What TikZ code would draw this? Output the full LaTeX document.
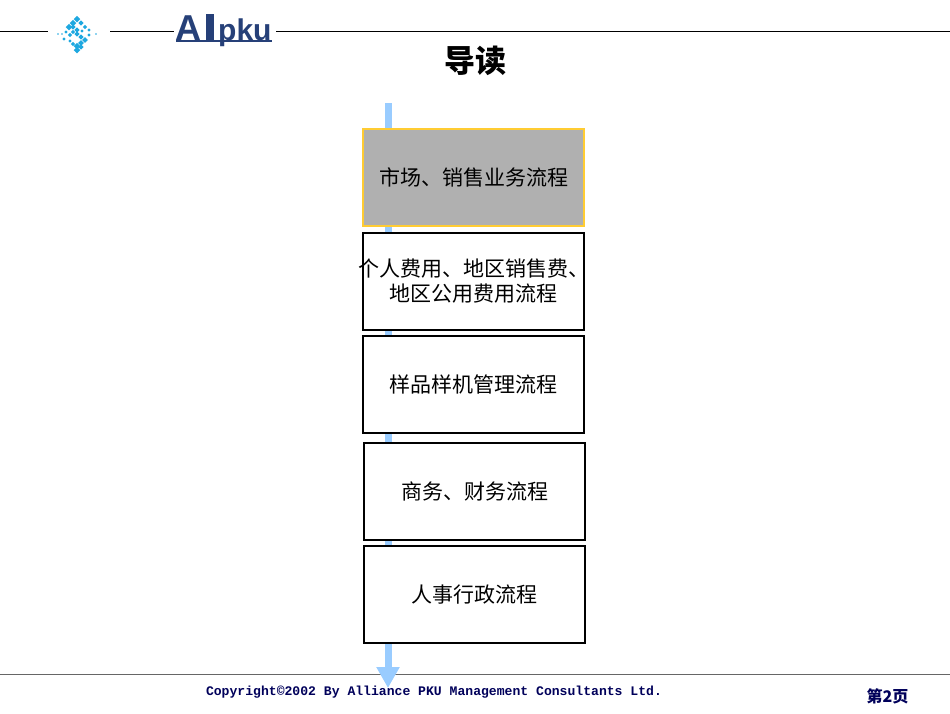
\documentclass[tikz,border=0pt]{standalone}
\usepackage{fontspec}
\setmainfont{Liberation Sans}
\setmonofont{Liberation Mono}
\newfontfamily\cjk{Noto Sans CJK SC}
\usetikzlibrary{arrows, arrows.meta}
\definecolor{flowblue}{RGB}{153,204,255}
\definecolor{flowgold}{RGB}{255,204,51}
\definecolor{flowgray}{RGB}{176,176,176}
\definecolor{logoblue}{RGB}{30,168,224}
\definecolor{logonavy}{RGB}{38,64,120}
\definecolor{footnavy}{RGB}{0,0,90}
\tikzset{
	flowbox/.style={draw=black, line width=2pt, fill=white, minimum width=221pt, minimum height=97pt, align=center, inner sep=0pt, font=\fontsize{21}{25}\selectfont\cjk},
	activebox/.style={flowbox, draw=flowgold, fill=flowgray, line width=2pt},
	rule/.style={line width=1pt},
	dot/.style={fill=logoblue, inner sep=0pt, rotate=45, minimum size=#1},
	brandtext/.style={text=logonavy, inner sep=0pt, anchor=base west, font=\fontsize{#1}{#1}\selectfont\bfseries}
}
\begin{document}
\begin{tikzpicture}[x=1pt, y=-1pt]
	\useasboundingbox (0,0) rectangle (950,713);
	% header and footer rules
	\coordinate (ruleA) at (0,31);
	\coordinate (ruleB) at (48,31);
	\coordinate (ruleC) at (110,31);
	\coordinate (ruleD) at (174,31);
	\coordinate (ruleE) at (276,31);
	\coordinate (ruleF) at (950,31);
	\draw [rule] (ruleA) -- (ruleB);
	\draw [rule] (ruleC) -- (ruleD);
	\draw [rule] (ruleE) -- (ruleF);
	\coordinate (footA) at (0,674.5);
	\coordinate (footB) at (950,674.5);
	\draw [rule, draw=black!60] (footA) -- (footB);
	% logo
	\foreach \dx/\dy/\s in {0/-15/4.6, -4/-11/4.6, 4/-11/3.6, -8/-7/4.6, -4/-7/3.6, 0/-4/3.6, -4/-2/3,
		0/0/3.6, 4/3/3.6, 8/6/4, 4/9/4, 0/12/4.6, -4/10/3, 0/16/4.6, 4/13/3.6,
		8/-7/3, 12/-4/2.4, 5/-3/2.4, -11/-2/2.4, -7/1/3, -13/5/2.2, -7/7/2.4, 12/1/2.4, -19/0/1.2, 19/0/1.2, -15/0/1.2}
		\node [dot=\s pt] at ({77+\dx},{34+\dy}) {};
	\node [brandtext=36] (brandA) at (175,40) {A};
	\node [brandtext=30] (brandB) at (218,40) {pku};
	\fill [logonavy] (206,14) rectangle (214,40);
	\coordinate (brandL) at (176,41);
	\coordinate (brandR) at (272,41);
	\draw [logonavy, line width=2pt] (brandL) -- (brandR);
	% spine
	\coordinate (spineTop) at (388,103);
	\coordinate (spineEnd) at (388,688);
	\draw [flowblue, line width=7pt, -{Triangle[width=22pt, length=21pt]}] (spineTop) -- (spineEnd);
	% boxes
	\node [activebox] (market) at (473.5,177) {市场、销售业务流程};
	\node [flowbox] (expense) at (473.5,281.5) {\makebox[221pt][c]{个人费用、地区销售费、}\\地区公用费用流程};
	\node [flowbox] (sample) at (473.5,384.5) {样品样机管理流程};
	\node [flowbox] (finance) at (474.5,491.5) {商务、财务流程};
	\node [flowbox] (staff) at (474.5,594.5) {人事行政流程};
	% texts
	\node [font=\fontsize{31}{31}\selectfont\cjk\bfseries] (title) at (475,61) {导读};
	\node [font=\fontsize{13.1}{14}\selectfont\ttfamily\bfseries, text=footnavy, inner sep=0pt] (copy) at (434,692) {Copyright©2002 By Alliance PKU Management Consultants Ltd.};
	\node [font=\fontsize{16}{16}\selectfont\cjk\bfseries, text=footnavy, inner sep=0pt] (page) at (887.5,696) {第2页};
\end{tikzpicture}
\end{document}
